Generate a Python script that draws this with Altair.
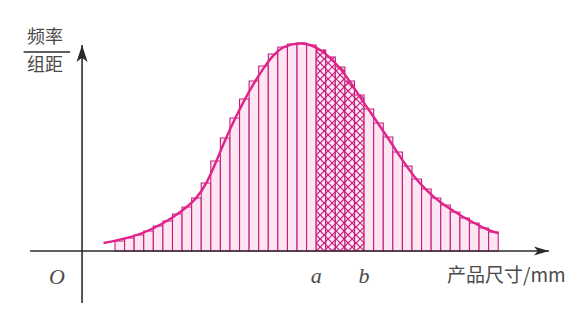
import altair as alt
import pandas as pd

# ---------------- data ----------------
# bar index (each bar = one group of width 1), heights in "frequency / group width" units
bar_bins = list(range(40))
bar_heights = [10, 13, 16, 20, 25, 30, 37, 44, 53, 68,
               90, 113, 133, 152, 170, 185, 197, 204, 207, 208,
               206, 201, 194, 184, 170, 156, 142, 128, 114, 99,
               85, 72, 62, 53, 46, 39, 33, 28, 23, 19]

# density curve
curve_x = [-1.2, 1, 3, 5, 7, 8.5, 9.6, 10.5, 11.5, 12.5, 13.5, 14.5, 15.5, 16.5,
           17.5, 18.5, 19.5, 20.5, 21.5, 22.5, 23.5, 24.5, 25.5, 26.5, 27.5, 28.5,
           29.5, 30.5, 31.5, 32.5, 33.5, 34.5, 35.5, 36.5, 37.5, 38.5, 39.5, 40.0]
curve_y = [8, 12, 18, 27, 40, 52, 68, 88, 111, 132, 151, 168, 183, 196,
           204, 207, 208, 206, 201, 193, 183, 170, 155, 141, 127, 113,
           98, 84, 71, 61, 52, 45, 39, 33, 28, 23, 19, 18]

# interval [a, b]
a_val, b_val = 21, 26
a_lab, b_lab = "a", "b"

# ---------------- layout constants ----------------
W, H = 570, 304
X_DOM = [-11.17, 48.33]
Y_DOM = [-61, 243]
PX_PER_X = W / (X_DOM[1] - X_DOM[0])   # pixels per x unit
PX_PER_Y = H / (Y_DOM[1] - Y_DOM[0])   # pixels per y unit

origin_x = -3.44          # where the vertical axis stands
x_axis_from, x_axis_to = -8.87, 45.3
y_axis_from, y_axis_to = -52, 206

MAGENTA = "#c41d7c"
CURVE = "#e0228b"
PINK_FILL = "#fde6f2"
AXIS = "#2b2b2b"
TEXT = "#4a4a4a"

xs = alt.Scale(domain=X_DOM, nice=False, zero=False)
ys = alt.Scale(domain=Y_DOM, nice=False, zero=False)

bars = pd.DataFrame({"x": bar_bins, "x2": [b + 1 for b in bar_bins],
                     "y": 0, "y2": bar_heights})
curve = pd.DataFrame({"x": curve_x, "y": curve_y, "o": range(len(curve_x))})

# ---------------- hatch segments inside the [a, b] bars ----------------
step_px = 8.0
rise = PX_PER_X / PX_PER_Y        # y units climbed over one bar for a 45 deg line
step = step_px / PX_PER_Y
segs = []
for k in range(a_val, b_val):
    h = bar_heights[k]
    for d in (1, -1):
        for j in range(-80, 80):
            yl = d * rise * (k - a_val) + step * j
            yr = yl + d * rise
            t0, t1 = 0.0, 1.0
            dy = yr - yl
            if dy > 0:
                t0 = max(t0, (0 - yl) / dy)
                t1 = min(t1, (h - yl) / dy)
            else:
                t0 = max(t0, (h - yl) / dy)
                t1 = min(t1, (0 - yl) / dy)
            if t1 - t0 > 1e-6:
                segs.append({"x": k + t0, "x2": k + t1,
                             "y": yl + dy * t0, "y2": yl + dy * t1})
hatch = pd.DataFrame(segs)


def X(f):
    return alt.X(f, type="quantitative", scale=xs, axis=None)


def Y(f):
    return alt.Y(f, type="quantitative", scale=ys, axis=None)


bar_layer = alt.Chart(bars).mark_rect(fill=PINK_FILL, stroke=MAGENTA, strokeWidth=1.1).encode(
    x=X("x"), x2="x2", y=Y("y"), y2="y2")

hatch_layer = alt.Chart(hatch).mark_rule(color=MAGENTA, strokeWidth=1.1).encode(
    x=X("x"), x2="x2", y=Y("y"), y2="y2")

curve_layer = alt.Chart(curve).mark_line(color=CURVE, strokeWidth=2.4, interpolate="basis").encode(
    x=X("x"), y=Y("y"), order="o:Q")

axes = pd.DataFrame({
    "x": [x_axis_from, origin_x], "x2": [x_axis_to, origin_x],
    "y": [0, y_axis_from], "y2": [0, y_axis_to]})
axis_layer = alt.Chart(axes).mark_rule(color=AXIS, strokeWidth=1.6).encode(
    x=X("x"), x2="x2", y=Y("y"), y2="y2")

arrow_r = alt.Chart(pd.DataFrame({"x": [x_axis_to], "y": [0]})).mark_point(
    shape="M0,0 L-2,-0.6 L-1.5,0 L-2,0.6 Z", size=225, filled=True, opacity=1,
    color=AXIS, strokeWidth=0).encode(x=X("x"), y=Y("y"))
arrow_u = alt.Chart(pd.DataFrame({"x": [origin_x], "y": [y_axis_to]})).mark_point(
    shape="M0,0 L0.65,2 L0,1.5 L-0.65,2 Z", size=289, filled=True, opacity=1,
    color=AXIS, strokeWidth=0).encode(x=X("x"), y=Y("y"))

# interval labels a, b (on the size axis, below it)
ab = pd.DataFrame({"x": [a_val, b_val], "y": [0, 0], "t": [a_lab, b_lab]})
ab_layer = alt.Chart(ab).mark_text(font="Liberation Serif", fontStyle="italic", fontSize=22,
                                   color=TEXT, baseline="middle", align="center", dy=25).encode(
    x=X("x"), y=Y("y"), text="t:N")

# origin O
o_layer = alt.Chart(pd.DataFrame({"x": [origin_x], "y": [0], "t": ["O"]})).mark_text(
    font="Liberation Serif", fontStyle="italic", fontSize=22, color=TEXT,
    align="center", baseline="middle", dx=-25, dy=26).encode(x=X("x"), y=Y("y"), text="t:N")

# x axis title
xt_layer = alt.Chart(pd.DataFrame({"x": [x_axis_to], "y": [0], "t": ["产品尺寸/mm"]})).mark_text(
    font="Noto Sans CJK SC", fontSize=19, color=TEXT, align="left", baseline="middle",
    dx=-102, dy=25).encode(x=X("x"), y=Y("y"), text="t:N")

# y axis title as a fraction 频率 / 组距
yt_top = alt.Chart(pd.DataFrame({"x": [origin_x], "y": [y_axis_to], "t": ["频率"]})).mark_text(
    font="Noto Sans CJK SC", fontSize=18, color=TEXT, align="center", baseline="middle",
    dx=-37, dy=-7).encode(x=X("x"), y=Y("y"), text="t:N")
yt_bot = alt.Chart(pd.DataFrame({"x": [origin_x], "y": [y_axis_to], "t": ["组距"]})).mark_text(
    font="Noto Sans CJK SC", fontSize=18, color=TEXT, align="center", baseline="middle",
    dx=-37, dy=21).encode(x=X("x"), y=Y("y"), text="t:N")
frac = alt.Chart(pd.DataFrame({"x": [origin_x - 6.1], "x2": [origin_x - 1.25],
                               "y": [y_axis_to - 7]})).mark_rule(color=AXIS, strokeWidth=1.3).encode(
    x=X("x"), x2="x2", y=Y("y"))

chart = alt.layer(bar_layer, hatch_layer, curve_layer, axis_layer, arrow_r, arrow_u,
                  ab_layer, o_layer, xt_layer, yt_top, yt_bot, frac).properties(
    width=W, height=H, padding=0, autosize=alt.AutoSizeParams(type="none"),
    background="white"
).configure_view(stroke=None)

chart.save("out.html", embed_options={"renderer": "svg", "actions": False})
